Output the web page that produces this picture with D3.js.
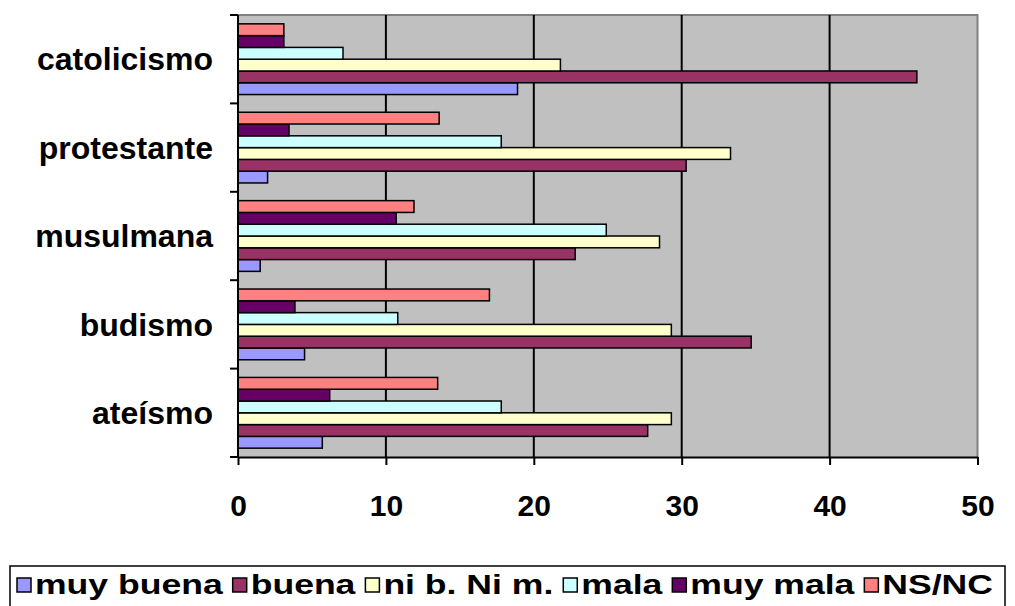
<!DOCTYPE html>
<html><head><meta charset="utf-8">
<script src="https://cdn.jsdelivr.net/npm/d3@7"></script>
<style>body{margin:0;background:#fff}svg{display:block}text{font-family:"Liberation Sans",Arial,sans-serif;font-weight:bold}</style>
</head><body>
<script>
const categories = ["catolicismo","protestante","musulmana","budismo","ateísmo"];
const seriesNames = ["muy buena","buena","ni b. Ni m.","mala","muy mala","NS/NC"];
const seriesColors = ["#9999FF","#993366","#FFFFCC","#CCFFFF","#660066","#FF8080"];
const muyBuena = [18.9, 2.0, 1.5, 4.5, 5.7];
const buena    = [45.9, 30.3, 22.8, 34.7, 27.7];
const niBNiM   = [21.8, 33.3, 28.5, 29.3, 29.3];
const mala     = [7.1, 17.8, 24.9, 10.8, 17.8];
const muyMala  = [3.1, 3.45, 10.7, 3.85, 6.2];
const nsnc     = [3.1, 13.6, 11.9, 17.0, 13.5];
const xTicks = [0,10,20,30,40,50];
const seriesValues = [muyBuena, buena, niBNiM, mala, muyMala, nsnc];

const W=1015,H=606;
const L=238,R=977.5,T=15,B=457;
const svg=d3.select("body").append("svg").attr("width",W).attr("height",H);
const x=d3.scaleLinear().domain([0,50]).range([L,R]);
const y=d3.scaleBand().domain(categories).range([T,B]).paddingInner(0.2).paddingOuter(0.1);
const ys=d3.scaleBand().domain(seriesNames.slice().reverse()).range([0,y.bandwidth()]);

svg.append("rect").attr("x",L).attr("y",T).attr("width",R-L).attr("height",B-T).attr("fill","#C0C0C0");
svg.append("path").attr("d",`M${L},${T}H${R}V${B}`).attr("fill","none").attr("stroke","#808080").attr("stroke-width",2);
svg.append("g").selectAll("line").data(xTicks.filter(d=>d>0&&d<50)).join("line")
  .attr("x1",d=>x(d)).attr("x2",d=>x(d)).attr("y1",T).attr("y2",B).attr("stroke","#000").attr("stroke-width",2);

const g=svg.append("g");
categories.forEach((c,ci)=>{
  seriesNames.forEach((s,si)=>{
    g.append("rect").attr("x",x(0)).attr("y",y(c)+ys(s))
     .attr("width",x(seriesValues[si][ci])-x(0)).attr("height",ys.bandwidth())
     .attr("fill",seriesColors[si]).attr("stroke","#000").attr("stroke-width",1.5);
  });
});

const xa=svg.append("g").attr("transform",`translate(0,${B})`)
  .call(d3.axisBottom(x).tickValues(xTicks).tickSize(8).tickPadding(30).tickSizeOuter(0));
xa.select(".domain").attr("stroke","#000").attr("stroke-width",2);
xa.selectAll(".tick line").attr("stroke","#000").attr("stroke-width",2);
xa.selectAll(".tick text").attr("font-size",30).attr("font-family","Liberation Sans, Arial").attr("font-weight","bold").attr("fill","#000");

const bounds=[T].concat(categories.map(c=>y(c)+y.bandwidth()+y.step()*y.paddingInner()/2));
bounds[bounds.length-1]=B;
svg.append("line").attr("x1",L).attr("x2",L).attr("y1",T).attr("y2",B).attr("stroke","#000").attr("stroke-width",2);
svg.append("g").selectAll("line").data(bounds).join("line")
  .attr("x1",L-8).attr("x2",L).attr("y1",d=>d).attr("y2",d=>d).attr("stroke","#000").attr("stroke-width",2);
svg.append("g").selectAll("text").data(categories).join("text")
  .attr("x",213).attr("y",d=>y(d)+y.bandwidth()/2).attr("dy","0.35em")
  .attr("text-anchor","end").attr("font-size",32).text(d=>d);

// legend
const lg=svg.append("g");
lg.append("rect").attr("x",10).attr("y",566).attr("width",995).attr("height",60).attr("fill","#fff").attr("stroke","#000").attr("stroke-width",1.5);
const sx=1.27;
let cx=17;
seriesNames.forEach((s,i)=>{
  lg.append("rect").attr("x",cx).attr("y",578).attr("width",14).attr("height",14).attr("fill",seriesColors[i]).attr("stroke","#000").attr("stroke-width",1.5);
  const t=lg.append("text").attr("transform",`translate(${cx+18},594) scale(${sx},1)`).attr("font-size",28).text(s);
  cx+=18+t.node().getComputedTextLength()*sx+10;
});
</script>
</body></html>
